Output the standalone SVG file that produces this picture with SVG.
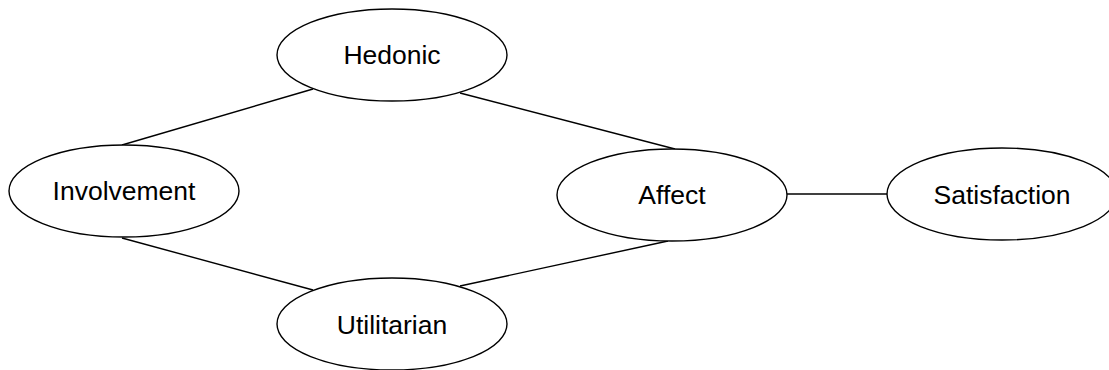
<svg xmlns="http://www.w3.org/2000/svg" width="1109" height="370" viewBox="0 0 1109 370">
<style>
.n{fill:#fff;stroke:#000;stroke-width:1.4}
.t{font-family:"Liberation Sans",Arial,sans-serif;font-size:26.5px;fill:#000;text-anchor:middle}
.e{stroke:#000;stroke-width:1.4;fill:none}
</style>
<rect width="1109" height="370" fill="#fff"/>
<g id="connectors">
<line class="e" x1="313" y1="89" x2="122" y2="145"/>
<line class="e" x1="460" y1="93" x2="675" y2="149"/>
<line class="e" x1="122" y1="238" x2="313" y2="290"/>
<line class="e" x1="460" y1="286" x2="668" y2="241"/>
<line class="e" x1="787" y1="194" x2="888" y2="194"/>
</g>
<g id="hedonic"><ellipse class="n" cx="392" cy="55" rx="115" ry="46"/><text class="t" x="392" y="63.5">Hedonic</text></g>
<g id="involvement"><ellipse class="n" cx="124" cy="191" rx="115" ry="46"/><text class="t" x="124" y="200">Involvement</text></g>
<g id="affect"><ellipse class="n" cx="672" cy="195" rx="115" ry="46"/><text class="t" x="672" y="203.5">Affect</text></g>
<g id="satisfaction"><ellipse class="n" cx="1002" cy="194" rx="115" ry="46"/><text class="t" x="1002" y="203.5">Satisfaction</text></g>
<g id="utilitarian"><ellipse class="n" cx="392" cy="324" rx="115" ry="46"/><text class="t" x="392" y="333.5">Utilitarian</text></g>
</svg>
